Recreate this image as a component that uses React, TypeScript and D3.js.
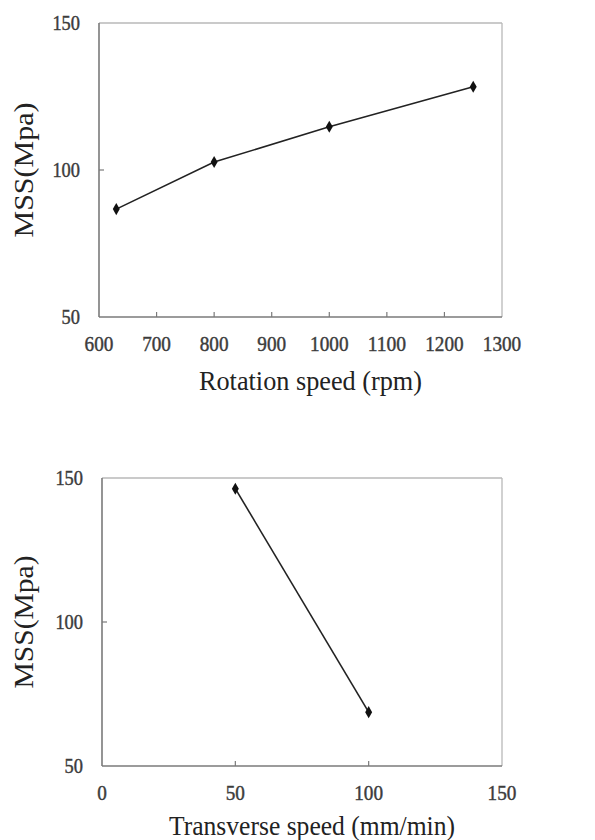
import React from "react";
import * as d3 from "d3";

const rotationSpeed = [630, 800, 1000, 1250];
const mssRotation = [86.7, 102.7, 114.7, 128.3];
const transverseSpeed = [50, 100];
const mssTransverse = [146.3, 68.7];
const rotationTicks = [600, 700, 800, 900, 1000, 1100, 1200, 1300];
const transverseTicks = [0, 50, 100, 150];
const mssTicks = [50, 100, 150];

const FONT = "'Liberation Serif', 'Times New Roman', serif";

type ChartProps = {
  xs: number[];
  ys: number[];
  xTicks: number[];
  xDomain: [number, number];
  left: number;
  right: number;
  top: number;
  bottom: number;
  xLabel: string;
  xLabelWidth: number;
  xLabelBaseline: number;
  yLabelX: number;
  yLabelWidth: number;
  xTickY: number;
};

function Chart(p: ChartProps) {
  const x = d3.scaleLinear().domain(p.xDomain).range([p.left, p.right]);
  const y = d3.scaleLinear().domain([50, 150]).range([p.bottom, p.top]);
  const pts = p.xs.map((v, i) => [x(v), y(p.ys[i])] as [number, number]);
  const line = d3.line()(pts) || "";
  const diamond = d3.symbol(d3.symbolDiamond, 42)() || "";
  const tickColor = "#3c3c3c";
  return (
    <g>
      {/* frame */}
      <line x1={p.left} x2={p.right} y1={p.top} y2={p.top} stroke="#b8b8b8" strokeWidth={1.3} />
      <line x1={p.right} x2={p.right} y1={p.top} y2={p.bottom} stroke="#b8b8b8" strokeWidth={1.3} />
      <line x1={p.left} x2={p.left} y1={p.top} y2={p.bottom} stroke="#7a7a7a" strokeWidth={1.6} />
      <line x1={p.left} x2={p.right} y1={p.bottom} y2={p.bottom} stroke="#7a7a7a" strokeWidth={1.6} />
      {/* x ticks */}
      {p.xTicks.slice(1, -1).map((t) => (
        <line key={t} x1={x(t)} x2={x(t)} y1={p.bottom} y2={p.bottom - 5} stroke="#7a7a7a" strokeWidth={1.2} />
      ))}
      {/* y ticks */}
      {mssTicks.slice(1, -1).map((t) => (
        <line key={t} x1={p.left} x2={p.left + 5} y1={y(t)} y2={y(t)} stroke="#7a7a7a" strokeWidth={1.2} />
      ))}
      {/* x tick labels */}
      {p.xTicks.map((t) => (
        <text key={t} x={x(t)} y={p.xTickY} textAnchor="middle" dominantBaseline="central"
          fontFamily={FONT} fontSize={21} fill={tickColor} stroke={tickColor} strokeWidth={0.45}
          textLength={String(t).length * 9.6} lengthAdjust="spacingAndGlyphs">{t}</text>
      ))}
      {/* y tick labels */}
      {mssTicks.map((t) => (
        <text key={t} x={p.left - 19} y={y(t)} textAnchor="end" dominantBaseline="central"
          fontFamily={FONT} fontSize={21} fill={tickColor} stroke={tickColor} strokeWidth={0.45}
          textLength={String(t).length * 9.2} lengthAdjust="spacingAndGlyphs">{t}</text>
      ))}
      {/* series */}
      <path d={line} fill="none" stroke="#222" strokeWidth={1.6} />
      {pts.map((q, i) => (
        <path key={i} d={diamond} transform={`translate(${q[0]},${q[1]})`} fill="#111" />
      ))}
      {/* axis titles */}
      <text x={(p.left + p.right) / 2 + 10} y={p.xLabelBaseline} textAnchor="middle"
        fontFamily={FONT} fontSize={27} fill="#222" textLength={p.xLabelWidth} lengthAdjust="spacingAndGlyphs">{p.xLabel}</text>
      <text transform={`translate(${p.yLabelX},${(p.top + p.bottom) / 2}) rotate(-90)`} textAnchor="middle"
        dominantBaseline="central" fontFamily={FONT} fontSize={27} fill="#222"
        textLength={p.yLabelWidth} lengthAdjust="spacingAndGlyphs">MSS(Mpa)</text>
    </g>
  );
}

export default function App() {
  return (
    <svg width={595} height={840} style={{ position: "absolute", left: 0, top: 0, background: "#fff" }}>
      <rect x={0} y={0} width={595} height={840} fill="#fff" />
      <Chart xs={rotationSpeed} ys={mssRotation} xTicks={rotationTicks} xDomain={[600, 1300]}
        left={99} right={502} top={23} bottom={317}
        xLabel="Rotation speed (rpm)" xLabelWidth={223} xLabelBaseline={390}
        yLabelX={24} yLabelWidth={135} xTickY={344} />
      <Chart xs={transverseSpeed} ys={mssTransverse} xTicks={transverseTicks} xDomain={[0, 150]}
        left={102} right={502} top={478} bottom={766}
        xLabel="Transverse speed (mm/min)" xLabelWidth={286} xLabelBaseline={835}
        yLabelX={24} yLabelWidth={133} xTickY={793} />
    </svg>
  );
}
